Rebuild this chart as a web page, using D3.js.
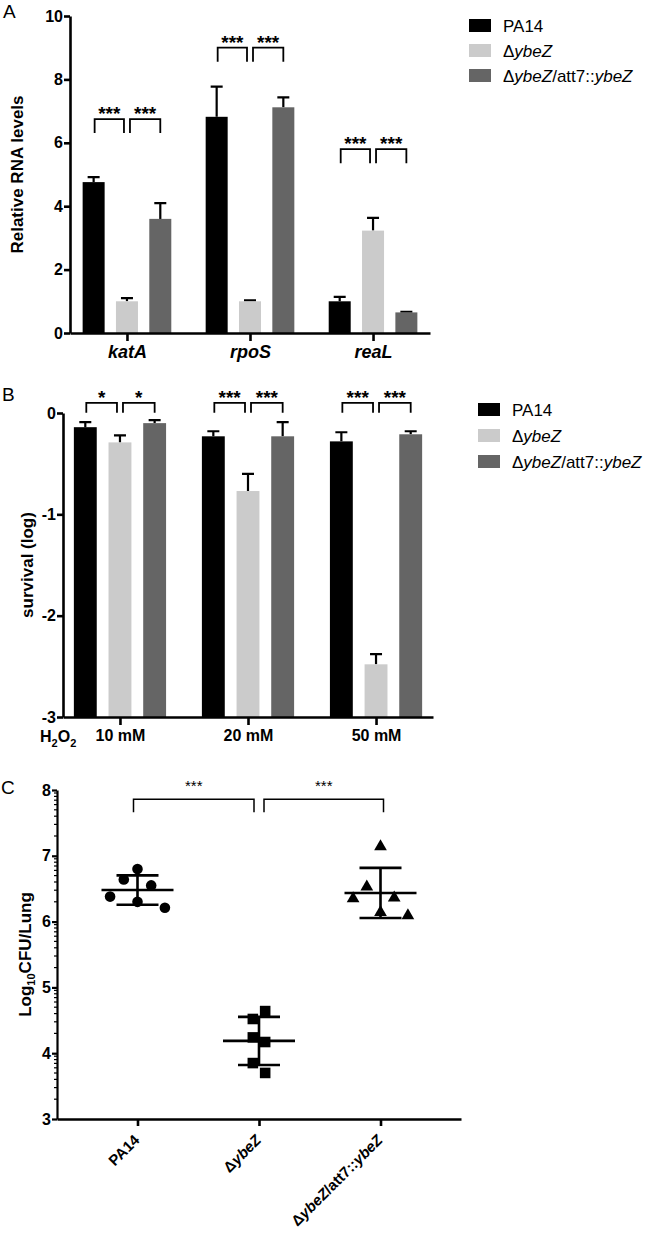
<!DOCTYPE html>
<html>
<head>
<meta charset="utf-8">
<script src="https://cdn.jsdelivr.net/npm/d3@7"></script>
<style>
  body { margin: 0; background: #fff; }
  svg text { font-family: "Liberation Sans", Arial, Helvetica, sans-serif; }
</style>
</head>
<body>
<svg id="fig"></svg>
<script>
// strains shared by all three panels
const strains = ["PA14", "ΔybeZ", "ΔybeZ/att7::ybeZ"];
const colors = ["#000000", "#cbcbcb", "#656565"];

// panel A: relative RNA levels (mean, SEM) per gene, one value per strain
const genes = ["katA", "rpoS", "reaL"];
const rnaMean = [[4.76, 1.0, 3.6], [6.82, 1.0, 7.12], [1.0, 3.23, 0.65]];
const rnaErr = [[0.16, 0.1, 0.5], [0.95, 0.03, 0.31], [0.14, 0.4, 0.02]];
const rnaTicks = [0, 2, 4, 6, 8, 10];
const rnaStars = [["***", "***"], ["***", "***"], ["***", "***"]];
const rnaBracket = [6.75, 9.0, 5.8];

// panel B: survival (log) after H2O2
const doses = ["10 mM", "20 mM", "50 mM"];
const survMean = [[-0.14, -0.29, -0.10], [-0.23, -0.77, -0.23], [-0.28, -2.48, -0.21]];
const survErr = [[0.05, 0.07, 0.03], [0.05, 0.17, 0.14], [0.09, 0.10, 0.03]];
const survTicks = [0, -1, -2, -3];
const survStars = [["*", "*"], ["***", "***"], ["***", "***"]];
const survBracket = [0.1, 0.1, 0.1];

// panel C: log10 CFU per lung, individual mice (+ scatter column)
const cfuPA14 = [6.80, 6.64, 6.55, 6.38, 6.30, 6.21];
const cfuYbeZ = [4.64, 4.52, 4.24, 4.17, 3.85, 3.70];
const cfuComp = [7.14, 6.53, 6.36, 6.35, 6.14, 6.09];
const colPA14 = [0, -1, 1, -2, 0, 2];
const colYbeZ = [0.45, -0.45, -0.45, 0.45, -0.45, 0.45];
const colComp = [0, -1, 1, -2, 0, 2];
const cfuTicks = [3, 4, 5, 6, 7, 8];
const cfuStars = ["***", "***"];
const cfuBracket = 7.86;

const svg = d3.select("#fig").attr("width", 650).attr("height", 1235);

function richStrain(text, name){
  name.split(/(ybeZ)/).filter(s => s).forEach(s => {
    text.append("tspan").text(s).attr("font-style", s === "ybeZ" ? "italic" : null);
  });
}

function styleAxis(g, w, size){
  g.select(".domain").attr("stroke-width", w);
  g.selectAll(".tick line").attr("stroke-width", w);
  g.selectAll("text").attr("font-weight", "bold").attr("font-size", size).attr("fill", "#000");
}

function legend(x, y, step){
  const g = svg.append("g").attr("transform", `translate(${x},${y})`);
  strains.forEach((s, i) => {
    g.append("rect").attr("x", 0).attr("y", i * step).attr("width", 22).attr("height", 13).attr("fill", colors[i]);
    const t = g.append("text").attr("x", 34).attr("y", i * step + 13).attr("font-size", 17);
    richStrain(t, s);
  });
}

function panelLetter(ch, x, y){
  svg.append("text").attr("x", x).attr("y", y).attr("font-size", 19).text(ch);
}

function bracket(x1, x2, top, drop, w){
  svg.append("path")
    .attr("d", `M${x1},${top + drop}V${top}H${x2}V${top + drop}`)
    .attr("fill", "none").attr("stroke", "#000").attr("stroke-width", w);
}

// grouped bar chart used for A and B
function barPanel(o){
  const y = d3.scaleLinear().domain(o.yDomain).range(o.yRange);
  const x0 = d3.scalePoint().domain(o.groups).range(o.xRange).padding(o.pad);
  const x1 = d3.scaleBand().domain([0, 1, 2]).range([-o.half, o.half]).paddingInner(0.34).paddingOuter(0.17);
  const base = y(o.yDomain[0]);

  o.groups.forEach((grp, gi) => {
    const g = svg.append("g").attr("transform", `translate(${x0(grp)},0)`);
    o.means[gi].forEach((v, si) => {
      const cx = x1(si) + x1.bandwidth() / 2;
      const top = y(v + o.errs[gi][si]);
      g.append("path")
        .attr("d", `M${cx},${y(v)}V${top}M${cx - 6},${top}H${cx + 6}`)
        .attr("stroke", "#000").attr("stroke-width", 2.2).attr("fill", "none");
      g.append("rect")
        .attr("x", x1(si)).attr("width", x1.bandwidth())
        .attr("y", y(v)).attr("height", base - y(v))
        .attr("fill", colors[si]);
    });
    // significance brackets
    const c = [0, 1, 2].map(si => x0(grp) + x1(si) + x1.bandwidth() / 2);
    const top = y(o.bracketY[gi]);
    [[c[0] + 1, c[1] - 3], [c[1] + 3, c[2]]].forEach((p, k) => {
      bracket(p[0], p[1], top, o.drop, 1.8);
      svg.append("text").attr("x", (p[0] + p[1]) / 2).attr("y", top + 1)
        .attr("text-anchor", "middle").attr("font-size", 19).attr("font-weight", "bold")
        .text(o.stars[gi][k]);
    });
  });

  const yAxis = svg.append("g").attr("transform", `translate(${o.xRange[0]},0)`)
    .call(d3.axisLeft(y).tickValues(o.ticks).tickFormat(d => String(d)).tickSize(6).tickPadding(1).tickSizeOuter(0));
  styleAxis(yAxis, 2.6, 16);

  const xAxis = svg.append("g").attr("transform", `translate(0,${base})`)
    .call(d3.axisBottom(x0).tickSize(8).tickPadding(o.labelPad).tickSizeOuter(0));
  styleAxis(xAxis, 2.6, o.labelSize);
  xAxis.selectAll("text").attr("font-style", o.italic ? "italic" : null);

  svg.append("text")
    .attr("transform", `translate(${o.titleX},${(o.yRange[0] + o.yRange[1]) / 2}) rotate(-90)`)
    .attr("text-anchor", "middle").attr("font-size", 17).attr("font-weight", "bold")
    .text(o.title);
}

// ---- A ----
panelLetter("A", 3, 18);
barPanel({
  yDomain: [0, 10], yRange: [333, 16], ticks: rnaTicks,
  groups: genes, xRange: [70, 430], pad: 0.463, half: 50,
  means: rnaMean, errs: rnaErr, stars: rnaStars, bracketY: rnaBracket, drop: 14,
  labelPad: 4, labelSize: 18, italic: true,
  title: "Relative RNA levels", titleX: 23
});
legend(469, 19, 25);

// ---- B ----
panelLetter("B", 2, 401);
barPanel({
  yDomain: [-3, 0], yRange: [717, 413], ticks: survTicks,
  groups: doses, xRange: [63, 433], pad: 0.445, half: 52,
  means: survMean, errs: survErr, stars: survStars, bracketY: survBracket, drop: 10,
  labelPad: 5, labelSize: 16, italic: false,
  title: "survival (log)", titleX: 33
});
legend(478, 403, 26);
const h2o2 = svg.append("text").attr("x", 40).attr("y", 742).attr("font-size", 16).attr("font-weight", "bold");
h2o2.append("tspan").text("H");
h2o2.append("tspan").text("2").attr("font-size", 11).attr("dy", 5);
h2o2.append("tspan").text("O").attr("dy", -5);
h2o2.append("tspan").text("2").attr("font-size", 11).attr("dy", 5);

// ---- C ----
panelLetter("C", 1, 794);
const yC = d3.scaleLinear().domain([3, 8]).range([1119, 790]);
const xC = d3.scalePoint().domain(strains).range([57, 461]).padding(0.6625);
const groupsC = [
  { values: cfuPA14, cols: colPA14, shape: d3.symbolCircle, size: 88 },
  { values: cfuYbeZ, cols: colYbeZ, shape: d3.symbolSquare, size: 112 },
  { values: cfuComp, cols: colComp, shape: d3.symbolTriangle, size: 70 }
];
groupsC.forEach((grp, i) => {
  const cx = xC(strains[i]);
  svg.append("g").selectAll("path").data(grp.values).join("path")
    .attr("d", d3.symbol().type(grp.shape).size(grp.size))
    .attr("transform", (d, j) => `translate(${cx + grp.cols[j] * 13.7},${yC(d)})`)
    .attr("fill", "#000");
  const m = d3.mean(grp.values), sd = d3.deviation(grp.values);
  svg.append("path")
    .attr("d", `M${cx - 36},${yC(m)}H${cx + 36}` +
               `M${cx - 21},${yC(m + sd)}H${cx + 21}` +
               `M${cx - 21},${yC(m - sd)}H${cx + 21}` +
               `M${cx},${yC(m + sd)}V${yC(m - sd)}`)
    .attr("stroke", "#000").attr("stroke-width", 2.6).attr("fill", "none");
});

const cTop = yC(cfuBracket);
const cc = strains.map(s => xC(s));
[[cc[0] - 4, cc[1] - 5], [cc[1] + 5, cc[2] + 3]].forEach((p, k) => {
  bracket(p[0], p[1], cTop, 13, 1.5);
  svg.append("text").attr("x", (p[0] + p[1]) / 2).attr("y", cTop - 8)
    .attr("text-anchor", "middle").attr("font-size", 15).text(cfuStars[k]);
});

const yAxisC = svg.append("g").attr("transform", "translate(57,0)")
  .call(d3.axisLeft(yC).tickValues(cfuTicks).tickFormat(d => String(d)).tickSize(5).tickPadding(1).tickSizeOuter(0));
styleAxis(yAxisC, 2.2, 16);
const minor = d3.range(3, 8).flatMap(n => d3.range(2, 10).map(k => n + Math.log10(k)));
svg.append("g").selectAll("line").data(minor).join("line")
  .attr("x1", 54).attr("x2", 57).attr("y1", d => yC(d)).attr("y2", d => yC(d))
  .attr("stroke", "#000").attr("stroke-width", 1.2);

const xAxisC = svg.append("g").attr("transform", "translate(0,1119)")
  .call(d3.axisBottom(xC).tickSize(7).tickFormat("").tickSizeOuter(0));
styleAxis(xAxisC, 2.6, 15);
strains.forEach(s => {
  const t = svg.append("text")
    .attr("transform", `translate(${xC(s) + 3},${1119 + 22}) rotate(-45)`)
    .attr("text-anchor", "end").attr("font-size", 15).attr("font-weight", "bold");
  richStrain(t, s);
});

svg.append("text")
  .attr("transform", `translate(31,${(1119 + 790) / 2}) rotate(-90)`)
  .attr("text-anchor", "middle").attr("font-size", 17).attr("font-weight", "bold")
  .call(t => {
    t.append("tspan").text("Log");
    t.append("tspan").text("10").attr("font-size", 11).attr("dy", 4);
    t.append("tspan").text("CFU/Lung").attr("dy", -4);
  });
</script>
</body>
</html>
